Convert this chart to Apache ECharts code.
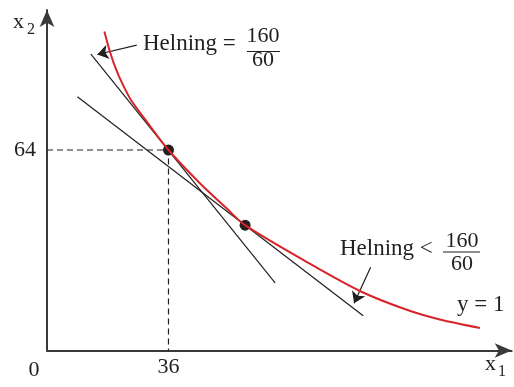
<!DOCTYPE html>
<html>
<head>
<meta charset="utf-8">
<script src="https://cdn.jsdelivr.net/npm/echarts@6/dist/echarts.min.js"></script>
<style>
html,body{margin:0;padding:0;background:#fff;}
#main{width:514px;height:387px;}
</style>
</head>
<body>
<div id="main"></div>
<script>
// kurvan y = 1 (avlästa punkter)
var curvePts = [[17.0,101.8],[18.67,95.3],[20.44,89.8],[22.37,85.1],[24.89,79.96],[29.19,73.6],[36,64],[45.3,53.4],[53.2,45.4],[58.7,40],[76.9,28.3],[92.7,19.0],[106.6,13.0],[116.4,9.9],[128.3,7.2]];
var tangent1 = [[13.0,94.6],[67.6,21.6]];
var tangent2 = [[9.0,81.0],[93.7,11.1]];
var dots = [[36,64],[58.7,40]];
var guide = [[0,64],[36,64],[36,0]];
var xTicks = [36];
var yTicks = [64];
var arrows = [[[26.6,97.5],[14.9,94.5]],[[95.9,26.6],[91.0,15.1]]];
var xMax = 137.7, yMax = 108.7;

var ink = '#231f20';
var serif = 'Liberation Serif';

function txt(s,x,y,size,align){
	return {type:'text',x:x,y:y,style:{text:s,font:(size||22)+'px "'+serif+'"',fill:ink,textAlign:align||'left',textVerticalAlign:'middle'}};
}
function bar(x1,x2,y){
	return {type:'line',shape:{x1:x1,y1:y,x2:x2,y2:y},style:{stroke:ink,lineWidth:1.2}};
}

var myChart = echarts.init(document.getElementById('main'));
var axisLine = {show:true,onZero:true,symbol:['none','arrow'],symbolSize:[11,17],lineStyle:{color:'#3a3a3a',width:2}};

myChart.setOption({
	animation:false,
	grid:{left:47,right:2.3,top:10,bottom:36.5,outerBoundsMode:'none'},
	xAxis:{type:'value',min:0,max:xMax,splitLine:{show:false},axisTick:{show:false},axisLine:axisLine,
		axisLabel:{customValues:xTicks,margin:6,fontSize:22,fontFamily:serif,color:ink}},
	yAxis:{type:'value',min:0,max:yMax,splitLine:{show:false},axisTick:{show:false},axisLine:axisLine,
		axisLabel:{customValues:yTicks,margin:11,fontSize:22,fontFamily:serif,color:ink}},
	series:[
		{type:'line',data:guide,showSymbol:false,lineStyle:{color:ink,width:1.2,type:[6,4]}},
		{type:'line',data:tangent1,showSymbol:false,lineStyle:{color:ink,width:1.2}},
		{type:'line',data:tangent2,showSymbol:false,lineStyle:{color:ink,width:1.2}},
		{type:'line',data:curvePts,smooth:0.3,showSymbol:false,lineStyle:{color:'#d7262b',width:2}},
		{type:'scatter',data:dots,symbolSize:11,itemStyle:{color:ink,opacity:1}},
		{type:'lines',coordinateSystem:'cartesian2d',symbol:['none','arrow'],symbolSize:[6,11],
			lineStyle:{color:ink,width:1.2,opacity:1},
			data:arrows.map(function(a){return {coords:a};})}
	],
	graphic:[
		txt('0',34,370,22,'center'),
		txt('x',13,22),
		txt('2',27,30,16),
		txt('x',485,364),
		txt('1',498,372,16),
		txt('Helning =',143,44,23),
		txt('160',263,36,22,'center'),
		txt('60',263,60,22,'center'),
		bar(247,280,51.5),
		txt('Helning <',340,249,23),
		txt('160',462,241,22,'center'),
		txt('60',462,264,22,'center'),
		bar(443,480,252),
		txt('y = 1',457,305,23)
	]
});
</script>
</body>
</html>
